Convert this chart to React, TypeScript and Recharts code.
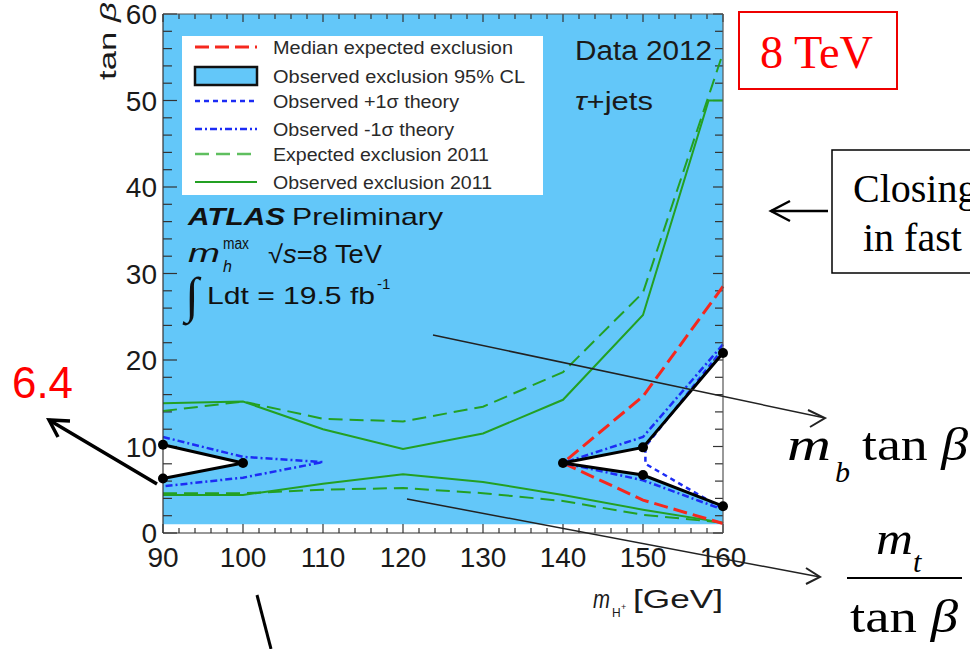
import React from 'react'
import { ComposedChart, Line, Area, XAxis, YAxis, Legend, ReferenceLine } from 'recharts'

// tick positions (every 2 units, labelled every 10)
const xTicks = Array.from({ length: 36 }, (_, i) => 90 + 2 * i)
const yTicks = Array.from({ length: 31 }, (_, i) => 2 * i)

// blue band: observed exclusion 95% CL, tan beta from 1 to 60
const bandX = [90, 160]
const bandLo = [1, 1]
const bandHi = [60, 60]

// white (allowed) holes inside the exclusion
const holeLeftX = [90, 100]
const holeLeftLo = [6.3, 8.1]
const holeLeftHi = [10.2, 8.1]
const holeRightX = [140, 150, 160]
const holeRightLo = [8.1, 6.7, 3.1]
const holeRightHi = [8.1, 9.9, 20.8]

// observed exclusion contour (black, with points)
const obsLeftX = [90, 100, 90]
const obsLeftY = [10.2, 8.1, 6.3]
const obsRightX = [160, 150, 140, 150, 160]
const obsRightY = [20.8, 9.9, 8.1, 6.7, 3.1]

// median expected exclusion (red)
const medX = [160, 150, 140, 150, 160]
const medY = [28.5, 15.8, 8.1, 3.8, 1.1]

// observed -1 sigma theory (blue dash-dot)
const minusLeftX = [90, 100, 110, 100, 90]
const minusLeftY = [11.1, 8.8, 8.2, 6.4, 5.4]
const minusRightX = [160, 150, 140, 150, 160]
const minusRightY = [21.8, 11.1, 8.1, 6.1, 2.7]

// observed +1 sigma theory (blue dashed)
const plusRightX = [160, 150.3, 150.3, 160]
const plusRightY = [21.3, 10.0, 8.0, 2.8]

// 2011 results (green)
const x2011 = [90, 100, 110, 120, 130, 140, 150, 160]
const exp11Up = [14.1, 15.2, 13.2, 12.9, 14.6, 18.6, 27.8, 55.5]
const exp11Down = [4.6, 4.6, 5.0, 5.2, 4.6, 3.7, 2.1, 1.2]
const obs11UpX = [90, 100, 110, 120, 130, 140, 150, 158.2, 160]
const obs11Up = [15.0, 15.2, 12.0, 9.7, 11.5, 15.4, 25.2, 50, 50]
const obs11Down = [4.4, 4.4, 5.7, 6.8, 5.9, 4.4, 2.7, 1.2]

const legendNames = [
  'Median expected exclusion',
  'Observed exclusion 95% CL',
  'Observed +1σ theory',
  'Observed -1σ theory',
  'Expected exclusion 2011',
  'Observed exclusion 2011',
]

const BLUE = '#63c7f9'
const RED = '#f5281e'
const DBLUE = '#1c2cf5'
const GREEN = '#23a023'
const TICK = '#333'
const SANS = '"Liberation Sans", Arial, sans-serif'
const SERIF = '"Liberation Serif", "Times New Roman", serif'

const W = 970
const H = 649
// plot box: x 163..723, y 14..533
const margin = { top: 9, right: 237, bottom: 76, left: 123 }
const bgMargin = { top: 14, right: 247, bottom: 116, left: 163 }

const pts = (xs: number[], ys: number[]) => xs.map((x, i) => ({ x, y: ys[i] }))
const rng = (xs: number[], lo: number[], hi: number[]) => xs.map((x, i) => ({ x, r: [lo[i], hi[i]] }))
const isMajor = (v: number) => v % 10 === 0

// inward tick lengths, in axis units (8 px per GeV, 8.65 px per tan beta unit)
const tickSegments = [
  ...xTicks.map((v) => [{ x: v, y: 0 }, { x: v, y: isMajor(v) ? 1.04 : 0.58 }]),
  ...xTicks.map((v) => [{ x: v, y: 60 }, { x: v, y: isMajor(v) ? 59.07 : 59.42 }]),
  ...yTicks.map((v) => [{ x: 90, y: v }, { x: isMajor(v) ? 91.75 : 91.12, y: v }]),
  ...yTicks.map((v) => [{ x: 160, y: v }, { x: isMajor(v) ? 158.75 : 159, y: v }]),
]

const BottomLabel = (props: any) => {
  const { x, y, payload } = props
  if (!isMajor(payload.value)) return <g />
  return (
    <text x={x} y={y + 34} textAnchor="middle" fontSize={28} fontFamily={SANS} fill="#1a1a1a">
      {payload.value}
    </text>
  )
}

const LeftLabel = (props: any) => {
  const { x, y, payload } = props
  if (!isMajor(payload.value)) return <g />
  return (
    <text x={x - 6} y={y + 10} textAnchor="end" fontSize={28} fontFamily={SANS} fill="#1a1a1a">
      {payload.value}
    </text>
  )
}

const legendStyles = [
  { stroke: RED, dash: '14 6', w: 3 },
  null,
  { stroke: DBLUE, dash: '5 4', w: 2.5 },
  { stroke: DBLUE, dash: '7 3 2 3', w: 2.5 },
  { stroke: '#5fbf5f', dash: '14 7', w: 2.5 },
  { stroke: GREEN, dash: undefined, w: 2 },
]
const legendRowY = [11, 40, 65, 93, 118, 146]
const legendTextW = [240, 252, 186, 181, 216, 219]

const LegendBox = () => (
  <svg width={361} height={159} style={{ display: 'block' }}>
    <rect x={0} y={0} width={361} height={159} fill="#fff" />
    {legendNames.map((name, i) => {
      const s = legendStyles[i]
      const cy = legendRowY[i]
      return (
        <g key={name}>
          {s ? (
            <line x1={13} x2={75} y1={cy} y2={cy} stroke={s.stroke} strokeWidth={s.w} strokeDasharray={s.dash} />
          ) : (
            <rect x={13} y={cy - 9} width={62} height={18} fill={BLUE} stroke="#111" strokeWidth={2.5} />
          )}
          <text x={91} y={cy + 6.5} fontSize={18} fontFamily={SANS} fill="#2a2a2a" textLength={legendTextW[i]} lengthAdjust="spacingAndGlyphs">
            {name}
          </text>
        </g>
      )
    })}
  </svg>
)

const lineProps = { type: 'linear' as const, dot: false, activeDot: false, isAnimationActive: false, legendType: 'none' as const }

export default function App() {
  return (
    <div style={{ position: 'absolute', left: 0, top: 0, width: W, height: H, overflow: 'hidden', background: '#fff' }}>
      {/* filled exclusion region, drawn underneath everything else */}
      <div style={{ position: 'absolute', left: 0, top: 0 }}>
        <ComposedChart width={W} height={H} margin={bgMargin}>
          <XAxis type="number" dataKey="x" domain={[90, 160]} hide />
          <YAxis type="number" domain={[0, 60]} hide />
          <Area data={rng(bandX, bandLo, bandHi)} dataKey="r" type="linear" fill={BLUE} fillOpacity={1} stroke="none" isAnimationActive={false} legendType="none" />
          <Area data={rng(holeLeftX, holeLeftLo, holeLeftHi)} dataKey="r" type="linear" fill="#fff" fillOpacity={1} stroke="none" isAnimationActive={false} legendType="none" />
          <Area data={rng(holeRightX, holeRightLo, holeRightHi)} dataKey="r" type="linear" fill="#fff" fillOpacity={1} stroke="none" isAnimationActive={false} legendType="none" />
        </ComposedChart>
      </div>

      {/* axes, ticks, contours and legend */}
      <div style={{ position: 'absolute', left: 0, top: 0 }}>
        <ComposedChart width={W} height={H} margin={margin}>
          <XAxis type="number" dataKey="x" domain={[90, 160]} ticks={xTicks} interval={0} tick={BottomLabel} tickLine={false} tickSize={0} tickMargin={0} height={40} axisLine={{ stroke: TICK, strokeWidth: 1.2 }} />
          <XAxis xAxisId="top" orientation="top" type="number" dataKey="x" domain={[90, 160]} tick={false} tickLine={false} height={5} axisLine={{ stroke: '#555', strokeWidth: 1.2 }} />
          <YAxis type="number" domain={[0, 60]} ticks={yTicks} interval={0} tick={LeftLabel} tickLine={false} tickSize={0} tickMargin={0} width={40} axisLine={{ stroke: TICK, strokeWidth: 1.2 }} />
          <YAxis yAxisId="right" orientation="right" type="number" domain={[0, 60]} tick={false} tickLine={false} width={10} axisLine={{ stroke: '#555', strokeWidth: 1.2 }} />

          {tickSegments.map((seg, i) => (
            <ReferenceLine key={`t${i}`} segment={seg} stroke={TICK} strokeWidth={1.2} ifOverflow="visible" />
          ))}

          <Line {...lineProps} data={pts(x2011, exp11Up)} dataKey="y" stroke={GREEN} strokeWidth={2} strokeDasharray="14 7" />
          <Line {...lineProps} data={pts(x2011, exp11Down)} dataKey="y" stroke={GREEN} strokeWidth={2} strokeDasharray="14 7" />
          <Line {...lineProps} data={pts(obs11UpX, obs11Up)} dataKey="y" stroke={GREEN} strokeWidth={2} />
          <Line {...lineProps} data={pts(x2011, obs11Down)} dataKey="y" stroke={GREEN} strokeWidth={2} />

          <Line {...lineProps} data={pts(medX, medY)} dataKey="y" stroke={RED} strokeWidth={3} strokeDasharray="14 6" />
          <Line {...lineProps} data={pts(minusLeftX, minusLeftY)} dataKey="y" stroke={DBLUE} strokeWidth={2.5} strokeDasharray="7 3 2 3" />
          <Line {...lineProps} data={pts(minusRightX, minusRightY)} dataKey="y" stroke={DBLUE} strokeWidth={2.5} strokeDasharray="7 3 2 3" />
          <Line {...lineProps} data={pts(plusRightX, plusRightY)} dataKey="y" stroke={DBLUE} strokeWidth={2.5} strokeDasharray="5 4" />

          <Line {...lineProps} data={pts(obsLeftX, obsLeftY)} dataKey="y" stroke="#000" strokeWidth={3} dot={{ r: 5, fill: '#000', stroke: '#000', strokeWidth: 0 }} />
          <Line {...lineProps} data={pts(obsRightX, obsRightY)} dataKey="y" stroke="#000" strokeWidth={3} dot={{ r: 5, fill: '#000', stroke: '#000', strokeWidth: 0 }} />

          <Legend layout="vertical" align="center" verticalAlign="middle" content={() => <LegendBox />} wrapperStyle={{ left: 182, top: 36, width: 361, height: 159 }} />
        </ComposedChart>
      </div>

      <svg width={W} height={H} style={{ position: 'absolute', left: 0, top: 0, pointerEvents: 'none' }}>
        {/* axis titles */}
        <text transform="translate(116, 2) rotate(-90)" textAnchor="end" fontSize={23} fontFamily={SANS} fill="#1a1a1a" textLength={78} lengthAdjust="spacingAndGlyphs">
          tan <tspan fontStyle="italic">β</tspan>
        </text>
        <text x={593} y={608} fontSize={26} fontFamily={SANS} fill="#1a1a1a" fontStyle="italic" textLength={17} lengthAdjust="spacingAndGlyphs">m</text>
        <text x={612} y={617} fontSize={12} fontFamily={SANS} fill="#1a1a1a">H</text>
        <text x={621} y={610} fontSize={9} fontFamily={SANS} fill="#1a1a1a">+</text>
        <text x={633} y={608} fontSize={25} fontFamily={SANS} fill="#1a1a1a" textLength={90} lengthAdjust="spacingAndGlyphs">[GeV]</text>

        {/* in-plot labels */}
        <text x={575} y={60} fontSize={27} fontFamily={SANS} fill="#1a1a1a" textLength={137} lengthAdjust="spacingAndGlyphs">Data 2012</text>
        <text x={575} y={110} fontSize={26} fontFamily={SANS} fill="#1a1a1a" textLength={78} lengthAdjust="spacingAndGlyphs">
          <tspan fontStyle="italic">τ</tspan>+jets
        </text>
        <text x={188} y={225} fontSize={24} fontFamily={SANS} fill="#111" textLength={97} lengthAdjust="spacingAndGlyphs" fontWeight="bold" fontStyle="italic">ATLAS</text>
        <text x={292} y={225} fontSize={24} fontFamily={SANS} fill="#111" textLength={151} lengthAdjust="spacingAndGlyphs">Preliminary</text>
        <text x={188} y={262} fontSize={26} fontFamily={SANS} fill="#111" fontStyle="italic" textLength={32} lengthAdjust="spacingAndGlyphs">m</text>
        <text x={223} y={249} fontSize={16} fontFamily={SANS} fill="#111" textLength={26} lengthAdjust="spacingAndGlyphs">max</text>
        <text x={223} y={272} fontSize={16} fontFamily={SANS} fill="#111" fontStyle="italic">h</text>
        <text x={268} y={263} fontSize={25} fontFamily={SANS} fill="#111" textLength={114} lengthAdjust="spacingAndGlyphs">
          √<tspan fontStyle="italic">s</tspan>=8 TeV
        </text>
        <text x={185} y={312} fontSize={50} fontFamily={SERIF} fill="#111">∫</text>
        <text x={207} y={304} fontSize={24} fontFamily={SANS} fill="#111" textLength={168} lengthAdjust="spacingAndGlyphs">Ldt = 19.5 fb</text>
        <text x={377} y={289} fontSize={15} fontFamily={SANS} fill="#111">-1</text>

        {/* annotations */}
        <rect x={739} y={12} width={158} height={77} fill="#fff" stroke="#e00" strokeWidth={2} />
        <text x={760} y={68} fontSize={46} fontFamily={SERIF} fill="#f00" textLength={113} lengthAdjust="spacingAndGlyphs">8 TeV</text>

        <rect x={832} y={150} width={200} height={123} fill="#fff" stroke="#000" strokeWidth={1.5} />
        <text x={853} y={202} fontSize={40} fontFamily={SERIF} fill="#000">Closing</text>
        <text x={863} y={251} fontSize={40} fontFamily={SERIF} fill="#000">in fast</text>
        <line x1={828} y1={211} x2={771} y2={211} stroke="#000" strokeWidth={2.5} />
        <polyline points="790,201 771,211 790,221" fill="none" stroke="#000" strokeWidth={2.5} />

        <text x={12} y={398} fontSize={44} fontFamily={SANS} fill="#f00" textLength={61} lengthAdjust="spacingAndGlyphs">6.4</text>
        <line x1={157} y1={484} x2={49} y2={420} stroke="#000" strokeWidth={3.5} />
        <polyline points="70,421 49,420 58,437" fill="none" stroke="#000" strokeWidth={3.5} />

        <line x1={433} y1={335} x2={825} y2={418} stroke="#222" strokeWidth={1.5} />
        <polyline points="808,410 825,418 810,427" fill="none" stroke="#222" strokeWidth={2} />
        <line x1={407} y1={499} x2={820} y2={577} stroke="#222" strokeWidth={1.5} />
        <polyline points="806,568 820,577 806,584" fill="none" stroke="#222" strokeWidth={2} />

        <text x={787} y={460} fontSize={46} fontFamily={SERIF} fill="#000" fontStyle="italic" textLength={44} lengthAdjust="spacingAndGlyphs">m</text>
        <text x={835} y={482} fontSize={30} fontFamily={SERIF} fill="#000" fontStyle="italic">b</text>
        <text x={862} y={460} fontSize={46} fontFamily={SERIF} fill="#000" textLength={106} lengthAdjust="spacingAndGlyphs">
          tan <tspan fontStyle="italic">β</tspan>
        </text>

        <text x={876} y={554} fontSize={46} fontFamily={SERIF} fill="#000" fontStyle="italic" textLength={37} lengthAdjust="spacingAndGlyphs">m</text>
        <text x={913} y={572} fontSize={30} fontFamily={SERIF} fill="#000" fontStyle="italic">t</text>
        <line x1={847} y1={578} x2={962} y2={578} stroke="#000" strokeWidth={2} />
        <text x={850} y={632} fontSize={46} fontFamily={SERIF} fill="#000" textLength={108} lengthAdjust="spacingAndGlyphs">
          tan <tspan fontStyle="italic">β</tspan>
        </text>

        <line x1={257} y1={595} x2={271} y2={649} stroke="#000" strokeWidth={3} />
      </svg>
    </div>
  )
}
